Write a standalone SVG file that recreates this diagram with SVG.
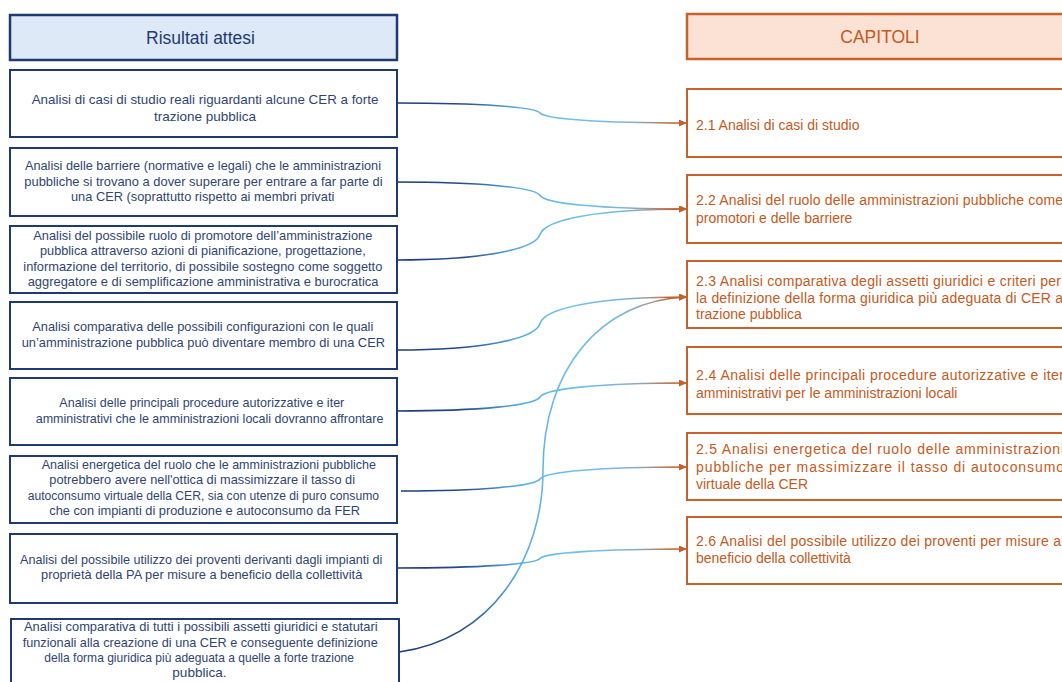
<svg xmlns="http://www.w3.org/2000/svg" width="1062" height="682" viewBox="0 0 1062 682">
<style>
.lb{fill:#ffffff;stroke:#1f3a73;stroke-width:2}
.lh{fill:#dde9f6;stroke:#1f3a73;stroke-width:2.5}
.rb{fill:#ffffff;stroke:#c9602b;stroke-width:2}
.rh{fill:#fbe2d5;stroke:#c9602b;stroke-width:2.5}
.lt{font-family:"Liberation Sans",Arial,sans-serif;font-size:13.5px;fill:#2f4474}
.rt{font-family:"Liberation Sans",Arial,sans-serif;font-size:14px;fill:#c55a22}
.lht{font-family:"Liberation Sans",Arial,sans-serif;font-size:17.5px;fill:#1f3a73;text-anchor:middle}
.rht{font-family:"Liberation Sans",Arial,sans-serif;font-size:17.5px;fill:#c55a22;text-anchor:middle}
.c{fill:none;stroke:url(#g);stroke-width:1.6;marker-end:url(#ah)}
</style>
<defs>
<linearGradient id="g" gradientUnits="userSpaceOnUse" x1="397" y1="0" x2="687" y2="0">
<stop offset="0" stop-color="#1c3a78"/>
<stop offset="0.22" stop-color="#24498c"/>
<stop offset="0.42" stop-color="#5aaee0"/>
<stop offset="0.6" stop-color="#70c0ec"/>
<stop offset="0.78" stop-color="#7ab6dc"/>
<stop offset="0.87" stop-color="#a09a98"/>
<stop offset="0.95" stop-color="#c0622a"/>
<stop offset="1" stop-color="#c0622a"/>
</linearGradient>
<marker id="ah" markerUnits="userSpaceOnUse" markerWidth="9" markerHeight="8" refX="8" refY="3.5" orient="auto">
<path d="M0,0 L8,3.5 L0,7 z" fill="#c0622a"/>
</marker>
</defs>

<g id="hdr-left">
<rect class="lh" x="10" y="15" width="387" height="45"/>
<text class="lht" x="200.5" y="43.5">Risultati attesi</text>
</g>
<g id="hdr-right">
<rect class="rh" x="687" y="14" width="400" height="45"/>
<text class="rht" x="880" y="42.5">CAPITOLI</text>
</g>

<g id="l1">
<rect class="lb" x="10" y="70" width="387" height="67"/>
<text class="lt"><tspan x="31.7" y="104" textLength="346.7" lengthAdjust="spacingAndGlyphs">Analisi di casi di studio reali riguardanti alcune CER a forte</tspan><tspan x="154" y="121" textLength="102" lengthAdjust="spacingAndGlyphs">trazione pubblica</tspan></text>
</g>
<g id="l2">
<rect class="lb" x="10" y="148" width="387" height="68"/>
<text class="lt"><tspan x="25" y="170.3" textLength="356" lengthAdjust="spacingAndGlyphs">Analisi delle barriere (normative e legali) che le amministrazioni</tspan><tspan x="24.3" y="185.5" textLength="358.3" lengthAdjust="spacingAndGlyphs">pubbliche si trovano a dover superare per entrare a far parte di</tspan><tspan x="71" y="200.8" textLength="263.3" lengthAdjust="spacingAndGlyphs">una CER (soprattutto rispetto ai membri privati</tspan></text>
</g>
<g id="l3">
<rect class="lb" x="10" y="226" width="387" height="67"/>
<text class="lt"><tspan x="33.3" y="240" textLength="339" lengthAdjust="spacingAndGlyphs">Analisi del possibile ruolo di promotore dell’amministrazione</tspan><tspan x="40" y="255.3" textLength="325.7" lengthAdjust="spacingAndGlyphs">pubblica attraverso azioni di pianificazione, progettazione,</tspan><tspan x="23.3" y="270.5" textLength="359" lengthAdjust="spacingAndGlyphs">informazione del territorio, di possibile sostegno come soggetto</tspan><tspan x="27.7" y="285.7" textLength="350.7" lengthAdjust="spacingAndGlyphs">aggregatore e di semplificazione amministrativa e burocratica</tspan></text>
</g>
<g id="l4">
<rect class="lb" x="10" y="302" width="387" height="67"/>
<text class="lt"><tspan x="32.3" y="331" textLength="341" lengthAdjust="spacingAndGlyphs">Analisi comparativa delle possibili configurazioni con le quali</tspan><tspan x="21.7" y="347.3" textLength="363.3" lengthAdjust="spacingAndGlyphs">un’amministrazione pubblica può diventare membro di una CER</tspan></text>
</g>
<g id="l5">
<rect class="lb" x="10" y="378" width="387" height="67"/>
<text class="lt"><tspan x="59.3" y="406.7" textLength="285" lengthAdjust="spacingAndGlyphs">Analisi delle principali procedure autorizzative e iter</tspan><tspan x="35.7" y="423.3" textLength="347.7" lengthAdjust="spacingAndGlyphs">amministrativi che le amministrazioni locali dovranno affrontare</tspan></text>
</g>
<g id="l6">
<rect class="lb" x="10" y="456" width="387" height="67"/>
<text class="lt"><tspan x="41.7" y="469" textLength="334.3" lengthAdjust="spacingAndGlyphs">Analisi energetica del ruolo che le amministrazioni pubbliche</tspan><tspan x="49.3" y="484.3" textLength="305.7" lengthAdjust="spacingAndGlyphs">potrebbero avere nell'ottica di massimizzare il tasso di</tspan><tspan x="27.7" y="500" textLength="351.3" lengthAdjust="spacingAndGlyphs">autoconsumo virtuale della CER, sia con utenze di puro consumo</tspan><tspan x="49.3" y="515.3" textLength="310.7" lengthAdjust="spacingAndGlyphs">che con impianti di produzione e autoconsumo da FER</tspan></text>
</g>
<g id="l7">
<rect class="lb" x="10" y="534" width="387" height="69"/>
<text class="lt"><tspan x="20" y="564" textLength="362.3" lengthAdjust="spacingAndGlyphs">Analisi del possibile utilizzo dei proventi derivanti dagli impianti di</tspan><tspan x="41" y="579.3" textLength="321.3" lengthAdjust="spacingAndGlyphs">proprietà della PA per misure a beneficio della collettività</tspan></text>
</g>
<g id="l8">
<rect class="lb" x="11" y="619" width="388" height="80"/>
<text class="lt"><tspan x="24" y="631" textLength="353.7" lengthAdjust="spacingAndGlyphs">Analisi comparativa di tutti i possibili assetti giuridici e statutari</tspan><tspan x="22.7" y="646.5" textLength="355" lengthAdjust="spacingAndGlyphs">funzionali alla creazione di una CER e conseguente definizione</tspan><tspan x="44.3" y="662" textLength="309.7" lengthAdjust="spacingAndGlyphs">della forma giuridica più adeguata a quelle a forte trazione</tspan><tspan x="172.3" y="677" textLength="54.3" lengthAdjust="spacingAndGlyphs">pubblica.</tspan></text>
</g>

<g id="r1">
<rect class="rb" x="687" y="89" width="400" height="68"/>
<text class="rt" x="696" y="130">2.1 Analisi di casi di studio</text>
</g>
<g id="r2">
<rect class="rb" x="687" y="175" width="400" height="68"/>
<text class="rt"><tspan x="696" y="205" textLength="367" lengthAdjust="spacing">2.2 Analisi del ruolo delle amministrazioni pubbliche come</tspan><tspan x="696" y="223">promotori e delle barriere</tspan></text>
</g>
<g id="r3">
<rect class="rb" x="687" y="261" width="400" height="67"/>
<text class="rt"><tspan x="696" y="286" textLength="365" lengthAdjust="spacing">2.3 Analisi comparativa degli assetti giuridici e criteri per</tspan><tspan x="696" y="302.5" textLength="367" lengthAdjust="spacing">la definizione della forma giuridica più adeguata di CER a</tspan><tspan x="696" y="319">trazione pubblica</tspan></text>
</g>
<g id="r4">
<rect class="rb" x="687" y="347" width="400" height="67"/>
<text class="rt"><tspan x="696" y="380" textLength="368" lengthAdjust="spacing">2.4 Analisi delle principali procedure autorizzative e iter</tspan><tspan x="696" y="398">amministrativi per le amministrazioni locali</tspan></text>
</g>
<g id="r5">
<rect class="rb" x="687" y="433" width="400" height="67"/>
<text class="rt"><tspan x="696" y="454" textLength="368" lengthAdjust="spacing">2.5 Analisi energetica del ruolo delle amministrazioni</tspan><tspan x="696" y="471.5" textLength="368" lengthAdjust="spacing">pubbliche per massimizzare il tasso di autoconsumo</tspan><tspan x="696" y="489">virtuale della CER</tspan></text>
</g>
<g id="r6">
<rect class="rb" x="687" y="517" width="400" height="67"/>
<text class="rt"><tspan x="696" y="546" textLength="365" lengthAdjust="spacing">2.6 Analisi del possibile utilizzo dei proventi per misure a</tspan><tspan x="696" y="563">beneficio della collettività</tspan></text>
</g>

<g id="connectors">
<path class="c" d="M397,103 C480,103 535,107 540,113 C545,119 600,123 687,123"/>
<path class="c" d="M397,182 C480,182 535,187.4 540,195.5 C545,203.6 600,209 687,209"/>
<path class="c" d="M397,260 C480,260 535,249.8 540,234.5 C545,219.2 600,209 687,209"/>
<path class="c" d="M397,350 C480,350 535,339.4 540,323.5 C545,307.6 600,297 687,297"/>
<path class="c" d="M397,411 C480,411 535,405.4 540,397 C545,388.6 600,383 687,383"/>
<path class="c" d="M401,491 C480,491 535,486.2 540,479 C545,471.8 600,467 687,467"/>
<path class="c" d="M397,568 C480,568 535,564.2 540,558.5 C545,552.8 600,549 687,549"/>
<path class="c" d="M399,652 C490,640 543,560 543,470 C543,370 600,300 687,297"/>
</g>
</svg>
